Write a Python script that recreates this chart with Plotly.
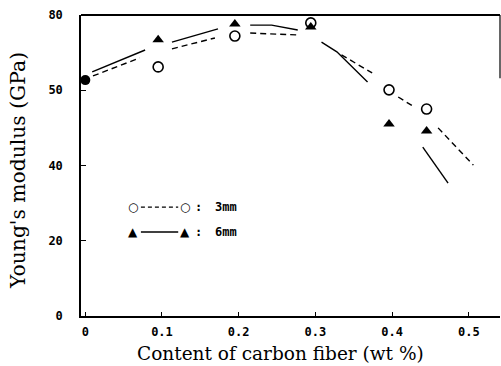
import plotly.graph_objects as go

# --- data ---
x_base = [0.0]
y_base = [62.7]

x_3mm = [0.095, 0.195, 0.294, 0.396, 0.445]
y_3mm = [66.2, 74.4, 77.9, 60.1, 55.0]

x_6mm = [0.095, 0.195, 0.294, 0.396, 0.445]
y_6mm = [73.4, 77.6, 76.8, 51.0, 49.2]

# fitted curves (drawn in broken segments, None = gap)
curve_3mm_x = [0.010, 0.071, None, 0.113, 0.169, None, 0.215, 0.277, None,
               0.334, 0.374, None, 0.408, 0.427, None, 0.460, 0.506]
curve_3mm_y = [63.8, 68.6, None, 71.0, 73.9, None, 75.2, 74.7, None,
               69.4, 64.6, None, 58.2, 55.8, None, 50.0, 40.1]

curve_6mm_x = [0.009, 0.078, None, 0.113, 0.173, None, 0.215, 0.243, 0.277, None,
               0.308, 0.328, 0.368, None, 0.440, 0.473]
curve_6mm_y = [64.9, 70.7, None, 72.8, 76.3, None, 77.3, 77.3, 76.0, None,
               72.8, 70.2, 62.2, None, 44.9, 35.3]

x_tickvals = [0, 0.1, 0.2, 0.3, 0.4, 0.5]
x_ticktext = ["0", "0.1", "0.2", "0.3", "0.4", "0.5"]
y_tickvals = [0, 20, 40, 60, 80]
y_ticktext = ["0", "20", "40", "50", "80"]

legend_labels = ["3mm", "6mm"]

SERIF = "DejaVu Serif"
MONO = "DejaVu Sans Mono"

fig = go.Figure()

fig.add_trace(go.Scatter(x=curve_3mm_x, y=curve_3mm_y, mode="lines",
                         line=dict(color="black", width=1.4, dash="6px,4px"),
                         connectgaps=False, showlegend=False, hoverinfo="skip"))
fig.add_trace(go.Scatter(x=curve_6mm_x, y=curve_6mm_y, mode="lines",
                         line=dict(color="black", width=1.4),
                         connectgaps=False, showlegend=False, hoverinfo="skip"))
fig.add_trace(go.Scatter(x=x_3mm, y=y_3mm, mode="markers", name="3mm",
                         marker=dict(symbol="circle-open", size=10, color="black",
                                     line=dict(width=1.6, color="black")),
                         showlegend=False, cliponaxis=False))
fig.add_trace(go.Scatter(x=x_6mm, y=y_6mm, mode="markers", name="6mm",
                         marker=dict(symbol="triangle-up", size=10, color="black"),
                         showlegend=False, cliponaxis=False))
fig.add_trace(go.Scatter(x=x_base, y=y_base, mode="markers", name="0 wt%",
                         marker=dict(symbol="circle", size=10, color="black"),
                         showlegend=False, cliponaxis=False))

# custom legend (paper coordinates)
shapes = [
    dict(type="line", xref="paper", yref="paper", x0=0.143, x1=0.232, y0=0.362, y1=0.362,
         line=dict(color="black", width=1.2, dash="4px,3px")),
    dict(type="line", xref="paper", yref="paper", x0=0.143, x1=0.232, y0=0.279, y1=0.279,
         line=dict(color="black", width=1.4)),
    # partial right frame line
    dict(type="line", xref="paper", yref="paper", x0=1, x1=1, y0=0.79, y1=1.0,
         line=dict(color="black", width=1.2)),
    # top frame line
    dict(type="line", xref="paper", yref="paper", x0=0, x1=1, y0=1, y1=1,
         line=dict(color="black", width=2)),
]
annotations = []
for yy, sym, lab in [(0.362, "○", legend_labels[0]), (0.279, "▲", legend_labels[1])]:
    for xx in (0.124, 0.248):
        annotations.append(dict(x=xx, y=yy, xref="paper", yref="paper", text=sym,
                                showarrow=False, font=dict(family="DejaVu Sans", size=12, color="black"),
                                xanchor="center", yanchor="middle"))
    annotations.append(dict(x=0.2816, y=yy, xref="paper", yref="paper", text=":",
                            showarrow=False, font=dict(family=MONO, size=12, color="black", weight="bold"),
                            xanchor="center", yanchor="middle"))
    annotations.append(dict(x=0.315, y=yy, xref="paper", yref="paper", text=lab,
                            showarrow=False, font=dict(family=MONO, size=12, color="black", weight="bold"),
                            xanchor="left", yanchor="middle"))

annotations.append(dict(x=0.475, y=-0.123, xref="paper", yref="paper",
                        text="Content of carbon fiber (wt %)", showarrow=False,
                        font=dict(family=SERIF, size=18.5, color="black"),
                        xanchor="center", yanchor="middle"))
annotations.append(dict(x=-0.150, y=0.482, xref="paper", yref="paper",
                        text="Young's modulus (GPa)", showarrow=False, textangle=-90,
                        font=dict(family=SERIF, size=20.3, color="black"),
                        xanchor="center", yanchor="middle"))

fig.update_layout(
    width=501, height=366,
    margin=dict(l=81, r=1, t=15, b=50),
    paper_bgcolor="white", plot_bgcolor="white",
    shapes=shapes, annotations=annotations,
    xaxis=dict(range=[-0.0056, 0.5407], tickvals=x_tickvals, ticktext=x_ticktext,
               ticks="inside", ticklen=4, tickcolor="black", tickwidth=1,
               showline=True, linecolor="black", linewidth=1.5, mirror=False,
               showgrid=False, zeroline=False, ticklabelstandoff=4,
               tickfont=dict(family=MONO, size=12, color="black", weight="bold")),
    yaxis=dict(range=[0, 80], tickvals=y_tickvals, ticktext=y_ticktext,
               ticks="inside", ticklen=5, tickcolor="black", tickwidth=1,
               showline=True, linecolor="black", linewidth=1.5,
               showgrid=False, zeroline=False, ticklabelstandoff=14,
               tickfont=dict(family=MONO, size=12, color="black", weight="bold")),
    showlegend=False,
)

fig.write_html("out.html", config={"displayModeBar": False},
               post_script="document.body.style.margin='0';document.body.style.overflow='hidden';")
